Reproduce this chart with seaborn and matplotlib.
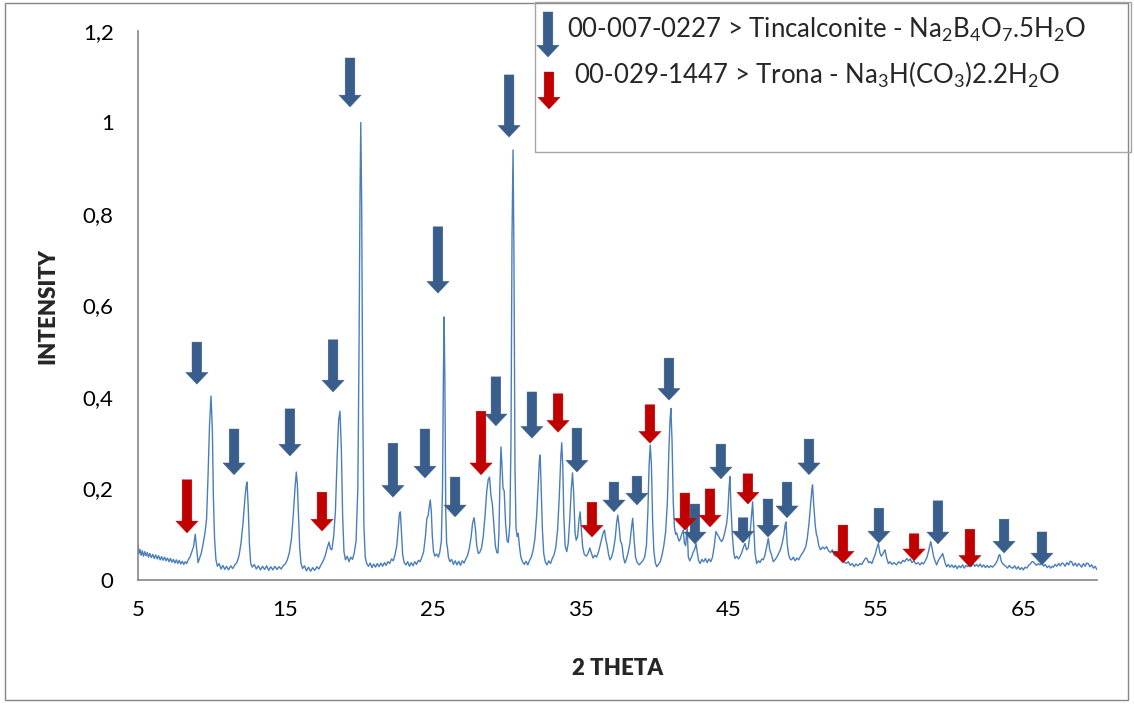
import matplotlib
matplotlib.use("Agg")
import matplotlib.pyplot as plt
import seaborn as sns
import pandas as pd
from matplotlib.patches import Rectangle

# Diffraction trace: 2-theta (degrees) and normalised intensity
two_theta = [
    5.00, 5.06, 5.13, 5.21, 5.29, 5.37, 5.46, 5.54, 5.63, 5.71, 5.80, 5.90, 6.00, 6.10, 6.20, 6.30,
    6.40, 6.50, 6.60, 6.70, 6.80, 6.90, 7.00, 7.10, 7.20, 7.30, 7.40, 7.50, 7.60, 7.70, 7.80, 7.90,
    8.00, 8.10, 8.20, 8.30, 8.40, 8.52, 8.65, 8.76, 8.88, 8.97, 9.07, 9.18, 9.30, 9.42, 9.55, 9.65,
    9.75, 9.85, 9.95, 10.04, 10.11, 10.19, 10.28, 10.38, 10.50, 10.62, 10.75, 10.88, 11.00, 11.14,
    11.28, 11.42, 11.56, 11.70, 11.84, 11.98, 12.12, 12.25, 12.33, 12.39, 12.47, 12.55, 12.64, 12.75,
    12.88, 13.02, 13.16, 13.30, 13.44, 13.58, 13.72, 13.86, 14.00, 14.14, 14.28, 14.42, 14.56, 14.70,
    14.84, 14.98, 15.12, 15.26, 15.40, 15.52, 15.64, 15.73, 15.80, 15.88, 15.96, 16.05, 16.15, 16.28,
    16.42, 16.56, 16.70, 16.84, 16.98, 17.12, 17.26, 17.40, 17.54, 17.68, 17.82, 17.95, 18.04, 18.14,
    18.26, 18.38, 18.50, 18.60, 18.69, 18.78, 18.87, 18.96, 19.06, 19.18, 19.30, 19.42, 19.54, 19.66,
    19.78, 19.90, 19.98, 20.05, 20.10, 20.16, 20.23, 20.31, 20.40, 20.50, 20.62, 20.74, 20.86, 20.98,
    21.10, 21.22, 21.34, 21.46, 21.58, 21.70, 21.82, 21.94, 22.06, 22.18, 22.30, 22.42, 22.54, 22.64,
    22.72, 22.78, 22.85, 22.94, 23.04, 23.16, 23.28, 23.40, 23.52, 23.64, 23.76, 23.88, 24.00, 24.12,
    24.24, 24.36, 24.48, 24.58, 24.66, 24.74, 24.81, 24.88, 24.95, 25.03, 25.12, 25.24, 25.36, 25.46,
    25.56, 25.64, 25.70, 25.75, 25.80, 25.86, 25.92, 25.97, 26.04, 26.14, 26.26, 26.38, 26.50, 26.62,
    26.74, 26.86, 26.98, 27.10, 27.22, 27.34, 27.46, 27.58, 27.68, 27.78, 27.87, 27.96, 28.06, 28.16,
    28.28, 28.40, 28.52, 28.64, 28.74, 28.83, 28.92, 29.02, 29.12, 29.22, 29.32, 29.40, 29.46, 29.53,
    29.60, 29.67, 29.74, 29.82, 29.92, 30.02, 30.10, 30.20, 30.28, 30.35, 30.42, 30.48, 30.55, 30.62,
    30.70, 30.77, 30.85, 30.95, 31.06, 31.18, 31.30, 31.42, 31.54, 31.66, 31.78, 31.90, 32.02, 32.13,
    32.21, 32.26, 32.33, 32.41, 32.50, 32.60, 32.72, 32.84, 32.96, 33.08, 33.20, 33.32, 33.44, 33.55,
    33.66, 33.72, 33.79, 33.86, 33.95, 34.06, 34.16, 34.26, 34.36, 34.45, 34.53, 34.62, 34.70, 34.80,
    34.90, 34.97, 35.05, 35.14, 35.25, 35.38, 35.50, 35.62, 35.72, 35.84, 35.96, 36.08, 36.20, 36.32,
    36.44, 36.55, 36.62, 36.70, 36.80, 36.90, 36.99, 37.10, 37.22, 37.34, 37.44, 37.52, 37.60, 37.70,
    37.80, 37.90, 38.00, 38.10, 38.22, 38.34, 38.45, 38.53, 38.62, 38.72, 38.84, 38.98, 39.10, 39.22,
    39.34, 39.46, 39.56, 39.64, 39.72, 39.80, 39.88, 39.96, 40.06, 40.16, 40.28, 40.40, 40.52, 40.64,
    40.76, 40.88, 40.98, 41.06, 41.12, 41.20, 41.28, 41.36, 41.44, 41.51, 41.60, 41.68, 41.76, 41.85,
    41.96, 42.04, 42.12, 42.22, 42.30, 42.40, 42.52, 42.62, 42.74, 42.82, 42.90, 43.00, 43.10, 43.22,
    43.34, 43.46, 43.58, 43.70, 43.82, 43.94, 44.06, 44.17, 44.26, 44.36, 44.46, 44.56, 44.66, 44.78,
    44.90, 44.98, 45.06, 45.12, 45.19, 45.28, 45.38, 45.46, 45.58, 45.70, 45.80, 45.92, 46.04, 46.14,
    46.24, 46.36, 46.48, 46.58, 46.66, 46.73, 46.82, 46.93, 47.05, 47.16, 47.28, 47.38, 47.50, 47.62,
    47.72, 47.82, 47.94, 48.06, 48.17, 48.30, 48.42, 48.54, 48.66, 48.78, 48.86, 48.92, 49.00, 49.10,
    49.20, 49.30, 49.42, 49.54, 49.66, 49.78, 49.90, 50.02, 50.14, 50.26, 50.36, 50.48, 50.60, 50.68,
    50.72, 50.80, 50.90, 50.98, 51.04, 51.14, 51.26, 51.40, 51.54, 51.67, 51.80, 51.94, 52.06, 52.18,
    52.30, 52.44, 52.58, 52.72, 52.86, 53.00, 53.14, 53.28, 53.42, 53.54, 53.66, 53.80, 53.93, 54.06,
    54.20, 54.32, 54.40, 54.52, 54.64, 54.74, 54.84, 54.96, 55.06, 55.18, 55.28, 55.38, 55.50, 55.63,
    55.74, 55.86, 55.98, 56.10, 56.24, 56.41, 56.56, 56.70, 56.84, 56.96, 57.10, 57.22, 57.34, 57.46,
    57.58, 57.72, 57.86, 58.00, 58.12, 58.24, 58.36, 58.48, 58.60, 58.73, 58.82, 58.92, 59.02, 59.13,
    59.24, 59.34, 59.44, 59.54, 59.64, 59.72, 59.81, 59.92, 60.04, 60.16, 60.28, 60.40, 60.52, 60.64,
    60.76, 60.88, 61.00, 61.12, 61.24, 61.36, 61.48, 61.60, 61.72, 61.84, 61.96, 62.08, 62.20, 62.32,
    62.44, 62.56, 62.68, 62.80, 62.92, 63.04, 63.14, 63.26, 63.36, 63.42, 63.50, 63.60, 63.70, 63.82,
    63.94, 64.06, 64.18, 64.30, 64.42, 64.54, 64.66, 64.78, 64.90, 65.00, 65.12, 65.24, 65.36, 65.48,
    65.60, 65.68, 65.78, 65.90, 66.02, 66.13, 66.26, 66.38, 66.50, 66.62, 66.74, 66.86, 66.96, 67.04,
    67.16, 67.28, 67.40, 67.52, 67.62, 67.72, 67.84, 67.96, 68.08, 68.18, 68.28, 68.40, 68.52, 68.64,
    68.76, 68.84, 68.96, 69.08, 69.20, 69.30, 69.41, 69.52, 69.64, 69.76, 69.88, 69.98,
]
intensity = [
    0.078, 0.057, 0.067, 0.054, 0.064, 0.052, 0.062, 0.053, 0.060, 0.050, 0.058, 0.049, 0.056, 0.047, 0.055, 0.046,
    0.053, 0.044, 0.051, 0.043, 0.050, 0.042, 0.048, 0.040, 0.047, 0.039, 0.045, 0.037, 0.044, 0.036, 0.043, 0.035,
    0.041, 0.034, 0.040, 0.036, 0.044, 0.050, 0.062, 0.072, 0.100, 0.070, 0.038, 0.048, 0.060, 0.080, 0.105, 0.135,
    0.230, 0.340, 0.402, 0.330, 0.180, 0.090, 0.045, 0.030, 0.036, 0.024, 0.032, 0.023, 0.030, 0.022,
    0.031, 0.025, 0.033, 0.038, 0.052, 0.080, 0.125, 0.180, 0.205, 0.214, 0.160, 0.080, 0.036, 0.028,
    0.034, 0.024, 0.031, 0.022, 0.030, 0.023, 0.031, 0.021, 0.029, 0.022, 0.030, 0.023, 0.029, 0.024,
    0.031, 0.035, 0.044, 0.060, 0.090, 0.140, 0.200, 0.236, 0.210, 0.140, 0.070, 0.036, 0.025, 0.031,
    0.020, 0.028, 0.019, 0.027, 0.021, 0.029, 0.024, 0.033, 0.041, 0.052, 0.070, 0.083, 0.068, 0.066,
    0.095, 0.150, 0.270, 0.350, 0.369, 0.290, 0.140, 0.062, 0.044, 0.052, 0.040, 0.050, 0.045, 0.060,
    0.085, 0.200, 0.500, 0.850, 1.000, 0.820, 0.400, 0.120, 0.050, 0.036, 0.030, 0.037, 0.027, 0.035,
    0.028, 0.036, 0.029, 0.037, 0.030, 0.038, 0.032, 0.040, 0.036, 0.046, 0.042, 0.055, 0.075, 0.115,
    0.145, 0.149, 0.110, 0.055, 0.038, 0.033, 0.040, 0.030, 0.038, 0.031, 0.040, 0.034, 0.043, 0.040,
    0.050, 0.062, 0.095, 0.135, 0.140, 0.160, 0.175, 0.150, 0.095, 0.062, 0.052, 0.057, 0.050, 0.062,
    0.085, 0.200, 0.450, 0.575, 0.430, 0.150, 0.080, 0.072, 0.050, 0.040, 0.045, 0.034, 0.042, 0.033,
    0.041, 0.032, 0.042, 0.037, 0.046, 0.054, 0.070, 0.095, 0.125, 0.136, 0.112, 0.075, 0.058, 0.060,
    0.070, 0.095, 0.140, 0.195, 0.220, 0.225, 0.185, 0.165, 0.120, 0.075, 0.060, 0.059, 0.100, 0.210,
    0.291, 0.250, 0.200, 0.195, 0.120, 0.085, 0.082, 0.120, 0.300, 0.750, 0.940, 0.720, 0.250, 0.115,
    0.095, 0.102, 0.075, 0.050, 0.040, 0.034, 0.041, 0.033, 0.043, 0.050, 0.065, 0.090, 0.140, 0.210,
    0.265, 0.273, 0.200, 0.110, 0.058, 0.040, 0.033, 0.042, 0.036, 0.047, 0.055, 0.072, 0.110, 0.180,
    0.270, 0.300, 0.250, 0.140, 0.075, 0.062, 0.080, 0.130, 0.195, 0.234, 0.190, 0.105, 0.087, 0.095,
    0.135, 0.149, 0.110, 0.072, 0.056, 0.052, 0.058, 0.070, 0.060, 0.048, 0.054, 0.050, 0.060, 0.075,
    0.092, 0.105, 0.109, 0.090, 0.075, 0.055, 0.044, 0.050, 0.065, 0.090, 0.125, 0.142, 0.120, 0.085,
    0.078, 0.050, 0.037, 0.045, 0.060, 0.080, 0.115, 0.135, 0.090, 0.050, 0.038, 0.033, 0.038, 0.042,
    0.050, 0.075, 0.150, 0.250, 0.295, 0.250, 0.130, 0.065, 0.038, 0.029, 0.034, 0.040, 0.055, 0.075,
    0.105, 0.170, 0.280, 0.350, 0.375, 0.300, 0.170, 0.115, 0.100, 0.103, 0.092, 0.085, 0.090, 0.100,
    0.109, 0.080, 0.075, 0.117, 0.050, 0.042, 0.050, 0.060, 0.068, 0.080, 0.062, 0.042, 0.036, 0.045,
    0.040, 0.047, 0.038, 0.046, 0.040, 0.050, 0.075, 0.106, 0.100, 0.095, 0.088, 0.084, 0.090, 0.105,
    0.124, 0.150, 0.200, 0.226, 0.160, 0.100, 0.060, 0.047, 0.052, 0.046, 0.051, 0.060, 0.072, 0.080,
    0.066, 0.070, 0.100, 0.140, 0.171, 0.120, 0.060, 0.036, 0.042, 0.038, 0.046, 0.044, 0.055, 0.075,
    0.091, 0.066, 0.055, 0.040, 0.044, 0.050, 0.058, 0.066, 0.080, 0.100, 0.120, 0.127, 0.080, 0.055,
    0.046, 0.044, 0.050, 0.042, 0.048, 0.044, 0.052, 0.058, 0.064, 0.073, 0.090, 0.124, 0.170, 0.200,
    0.208, 0.165, 0.120, 0.100, 0.095, 0.075, 0.066, 0.072, 0.068, 0.073, 0.064, 0.060, 0.066, 0.055,
    0.052, 0.056, 0.047, 0.045, 0.040, 0.036, 0.040, 0.032, 0.036, 0.029, 0.035, 0.031, 0.036, 0.034,
    0.042, 0.048, 0.047, 0.038, 0.040, 0.036, 0.045, 0.055, 0.068, 0.080, 0.060, 0.052, 0.058, 0.066,
    0.048, 0.036, 0.040, 0.034, 0.038, 0.033, 0.040, 0.036, 0.043, 0.040, 0.047, 0.042, 0.046, 0.038,
    0.042, 0.035, 0.038, 0.033, 0.038, 0.035, 0.042, 0.050, 0.065, 0.084, 0.070, 0.052, 0.042, 0.033,
    0.042, 0.048, 0.052, 0.058, 0.046, 0.036, 0.029, 0.034, 0.028, 0.033, 0.027, 0.032, 0.025, 0.031,
    0.027, 0.033, 0.026, 0.032, 0.029, 0.035, 0.030, 0.036, 0.030, 0.034, 0.029, 0.035, 0.028, 0.033,
    0.027, 0.032, 0.027, 0.031, 0.028, 0.032, 0.036, 0.044, 0.055, 0.055, 0.042, 0.036, 0.033, 0.030,
    0.026, 0.032, 0.027, 0.026, 0.031, 0.024, 0.029, 0.023, 0.027, 0.022, 0.028, 0.026, 0.032, 0.035,
    0.040, 0.040, 0.036, 0.032, 0.036, 0.033, 0.037, 0.030, 0.034, 0.027, 0.031, 0.026, 0.030, 0.028,
    0.034, 0.030, 0.036, 0.031, 0.037, 0.036, 0.030, 0.038, 0.033, 0.041, 0.040, 0.031, 0.037, 0.030,
    0.036, 0.033, 0.028, 0.036, 0.030, 0.037, 0.036, 0.029, 0.033, 0.026, 0.030, 0.023,
]

# Reference-pattern markers: peak position, arrow tip and arrow tail (intensity units)
tincalconite_theta = [8.99, 11.51, 15.30, 18.22, 19.37, 22.28, 24.45, 25.33, 26.49, 29.26, 30.15, 31.70, 34.75,
                      37.26, 38.82, 40.99, 42.75, 44.51, 46.01, 47.70, 48.99, 50.48, 55.22, 59.22, 63.70, 66.27]
tincalconite_tip = [0.428, 0.230, 0.271, 0.411, 1.034, 0.181, 0.223, 0.627, 0.138, 0.337, 0.968, 0.310, 0.236,
                    0.149, 0.164, 0.393, 0.079, 0.221, 0.081, 0.094, 0.136, 0.230, 0.081, 0.079, 0.059, 0.033]
tincalconite_tail = [0.520, 0.330, 0.374, 0.525, 1.141, 0.299, 0.330, 0.772, 0.225, 0.444, 1.104, 0.411, 0.332,
                     0.214, 0.227, 0.485, 0.166, 0.297, 0.136, 0.177, 0.214, 0.308, 0.157, 0.173, 0.133, 0.105]

trona_theta = [8.32, 17.47, 28.25, 33.47, 35.77, 39.70, 42.07, 43.77, 46.34, 52.78, 57.60, 61.39]
trona_tip = [0.103, 0.107, 0.230, 0.323, 0.094, 0.299, 0.109, 0.116, 0.166, 0.037, 0.042, 0.028]
trona_tail = [0.219, 0.192, 0.369, 0.407, 0.170, 0.383, 0.190, 0.199, 0.232, 0.120, 0.101, 0.111]

x_ticks = [5, 15, 25, 35, 45, 55, 65]
y_ticks = [0, 0.2, 0.4, 0.6, 0.8, 1.0, 1.2]
y_tick_labels = ["0", "0,2", "0,4", "0,6", "0,8", "1", "1,2"]

legend_labels = [
    "00-007-0227 > Tincalconite - Na$_2$B$_4$O$_7$.5H$_2$O",
    "00-029-1447 > Trona - Na$_3$H(CO$_3$)2.2H$_2$O",
]

BLUE_LINE = "#4A7EBB"
BLUE_ARROW = "#395E8C"
RED_ARROW = "#C00000"
AXIS_GREY = "#868686"

sns.set_style("white")
plt.rcParams["font.family"] = ["Lato", "DejaVu Sans"]
plt.rcParams["mathtext.fontset"] = "custom"
plt.rcParams["mathtext.rm"] = "Lato"
plt.rcParams["mathtext.default"] = "regular"

fig = plt.figure(figsize=(11.34, 7.04), dpi=100)
ax = fig.add_axes([138 / 1134, 1 - 580 / 704, (1097 - 138) / 1134, (580 - 31) / 704])

trace = pd.DataFrame({"two_theta": two_theta, "intensity": intensity})
sns.lineplot(data=trace, x="two_theta", y="intensity", ax=ax, color=BLUE_LINE,
             linewidth=1.0, sort=False, estimator=None)

ax.set_xlim(5, 70)
ax.set_ylim(0, 1.2)
ax.set_xticks(x_ticks)
ax.set_xticklabels([str(t) for t in x_ticks])
ax.set_yticks(y_ticks)
ax.set_yticklabels(y_tick_labels)
ax.tick_params(axis="both", direction="out", length=6.5, width=1.0, color=AXIS_GREY,
               labelsize=16, labelcolor="black")
ax.tick_params(axis="y", pad=11)
ax.tick_params(axis="x", pad=8)
for side in ("top", "right"):
    ax.spines[side].set_visible(False)
for side in ("left", "bottom"):
    ax.spines[side].set_color(AXIS_GREY)
    ax.spines[side].set_linewidth(1.2)

ax.set_xlabel("2 THETA", fontsize=16, fontweight="heavy")
ax.set_ylabel("INTENSITY", fontsize=16, fontweight="heavy")
ax.xaxis.set_label_coords(0.5, -0.142)
ax.yaxis.set_label_coords(-0.083, 0.5)

ARROW_STYLE = "simple,head_length=0.85,head_width=1.6,tail_width=0.7"


def block_arrow(x, tip, tail, color, coords="data"):
    ax.annotate(
        "", xy=(x, tip), xytext=(x, tail), xycoords=coords, textcoords=coords,
        annotation_clip=False,
        arrowprops=dict(arrowstyle=ARROW_STYLE, mutation_scale=10, fc=color, ec=color,
                        lw=0.3, shrinkA=0, shrinkB=0))


for x, tip, tail in zip(tincalconite_theta, tincalconite_tip, tincalconite_tail):
    block_arrow(x, tip, tail, BLUE_ARROW)
for x, tip, tail in zip(trona_theta, trona_tip, trona_tail):
    block_arrow(x, tip, tail, RED_ARROW)

# chart frame and legend panel
fig.add_artist(Rectangle((5 / 1134, 4 / 704), 1123 / 1134, 697 / 704, transform=fig.transFigure,
                         fill=False, ec=AXIS_GREY, lw=1.0))
fig.add_artist(Rectangle((535 / 1134, 1 - 152 / 704), 596 / 1134, 150 / 704, transform=fig.transFigure,
                         fill=False, ec="#A6A6A6", lw=1.0))

block_arrow(548 / 1134, 1 - 57 / 704, 1 - 12 / 704, BLUE_ARROW, coords="figure fraction")
block_arrow(549 / 1134, 1 - 109 / 704, 1 - 72 / 704, RED_ARROW, coords="figure fraction")
fig.text(567 / 1134, 1 - 30 / 704, legend_labels[0], fontsize=18.5, va="center", ha="left")
fig.text(574 / 1134, 1 - 75 / 704, legend_labels[1], fontsize=18.5, va="center", ha="left")

fig.savefig("out.png", dpi=100)
